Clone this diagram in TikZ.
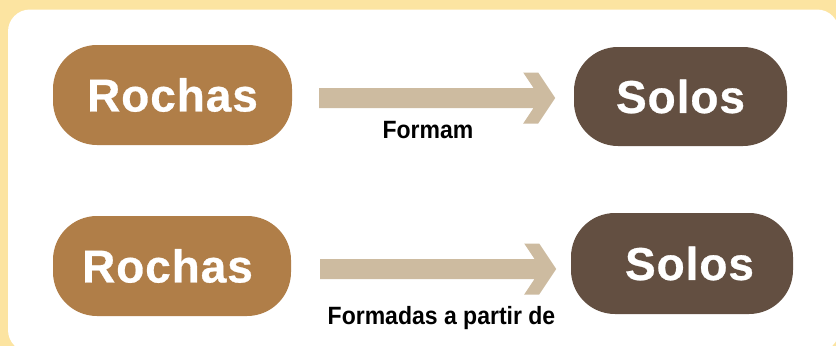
\documentclass[tikz,border=0pt]{standalone}
\usepackage{fontspec}
\setmainfont{Liberation Sans}
\usetikzlibrary{calc}
\definecolor{bgyellow}{HTML}{FCE4A1}
\definecolor{rockc}{HTML}{B07E48}
\definecolor{soilc}{HTML}{634F41}
\definecolor{arrowc}{HTML}{CDBBA0}
\tikzset{
  pill/.style={rectangle, rounded corners=44pt, inner sep=0pt, text=white,
    font=\fontsize{46}{54}\selectfont\bfseries\addfontfeature{LetterSpace=2,FakeBold=0.6}},
  rockbox/.style={pill, fill=rockc},
  soilbox/.style={pill, fill=soilc},
  lbl/.style={anchor=base, inner sep=0pt, font=\fontsize{25}{30}\selectfont\bfseries\addfontfeature{FakeStretch=0.92}, text=black},
  fatarrow/.pic={\fill[arrowc] (0,-10) -- (214.3,-10) -- (204,-25.5) -- (219,-25.5) -- (236,0)
     -- (219,25.5) -- (204,25.5) -- (214.3,10) -- (0,10) -- cycle;}
}
\begin{document}
\begin{tikzpicture}[x=1pt,y=-1pt]
\useasboundingbox (0,0) rectangle (836,346);
\fill[bgyellow] (0,0) rectangle (836,346);
\fill[white, rounded corners=22pt] (8,9.5) rectangle (839,352);
% boxes
\node[rockbox, minimum width=239pt, minimum height=100pt] (r1) at (172.5,95) {Rochas};
\node[soilbox, minimum width=213pt, minimum height=99pt] (s1) at (680.5,96.5) {Solos};
\node[rockbox, minimum width=238pt, minimum height=100pt] (r2) at (172,266) {\hspace*{-9pt}Rochas};
\node[soilbox, minimum width=222pt, minimum height=101pt] (s2) at (682,263.5) {\hspace*{15pt}Solos};
% arrows
\coordinate (a1) at ($(r1.east)+(27,3)$);
\coordinate (a2) at ($(r2.east)+(29,3)$);
\pic at (a1) {fatarrow};
\pic at (a2) {fatarrow};
% labels
\node[lbl] (l1) at (428,138) {Formam};
\node[lbl] (l2) at (441.5,324) {Formadas a partir de};
\end{tikzpicture}
\end{document}
